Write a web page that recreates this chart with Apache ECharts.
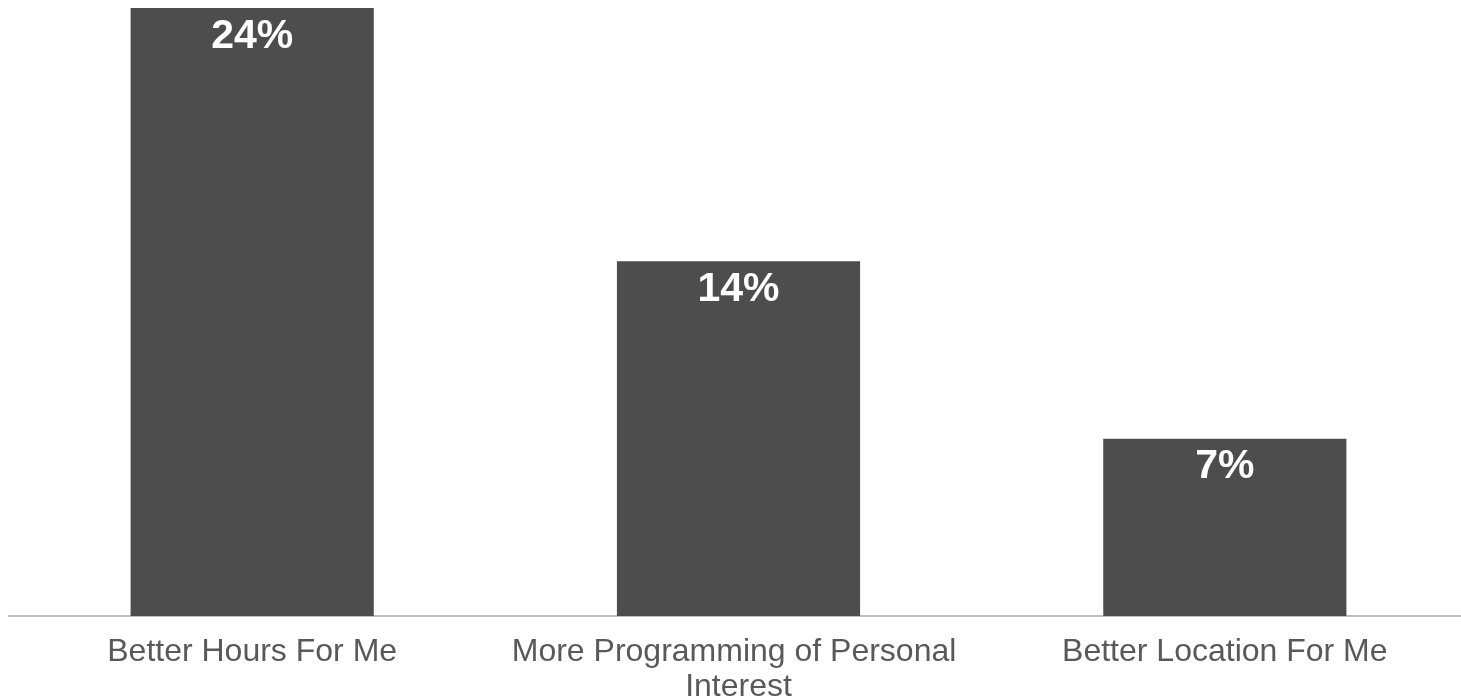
<!DOCTYPE html>
<html>
<head>
<meta charset="utf-8">
<script src="https://cdn.jsdelivr.net/npm/echarts@6/dist/echarts.min.js"></script>
<style>
html,body{margin:0;padding:0;background:#fff;}
#chart{width:1461px;height:700px;}
</style>
</head>
<body>
<div id="chart"></div>
<script>
var categories = ['Better Hours For Me', 'More Programming of Personal Interest', 'Better Location For Me'];
var values = [24, 14, 7];

var chart = echarts.init(document.getElementById('chart'), null, {renderer: 'canvas'});
chart.setOption({
  animation: false,
  grid: {left: 9, right: -7, top: 8, bottom: 84, containLabel: false, outerBoundsMode: 'none'},
  xAxis: {
    type: 'category',
    data: categories,
    axisLine: {lineStyle: {color: '#bfbfbf', width: 2}},
    axisTick: {show: false},
    axisLabel: {
      color: '#595959',
      fontFamily: 'Liberation Sans, Arial, sans-serif',
      fontSize: 32,
      lineHeight: 35,
      margin: 19,
      width: 480,
      overflow: 'break',
      interval: 0
    }
  },
  yAxis: {
    type: 'value',
    min: 0,
    max: 24,
    show: false,
    splitLine: {show: false}
  },
  series: [{
    type: 'bar',
    data: values,
    barWidth: '50%',
    itemStyle: {color: '#4d4d4d'},
    label: {
      show: true,
      position: 'insideTop',
      distance: 8,
      formatter: '{c}%',
      color: '#ffffff',
      fontWeight: 'bold',
      fontFamily: 'Liberation Sans, Arial, sans-serif',
      fontSize: 41
    }
  }]
});
</script>
</body>
</html>
